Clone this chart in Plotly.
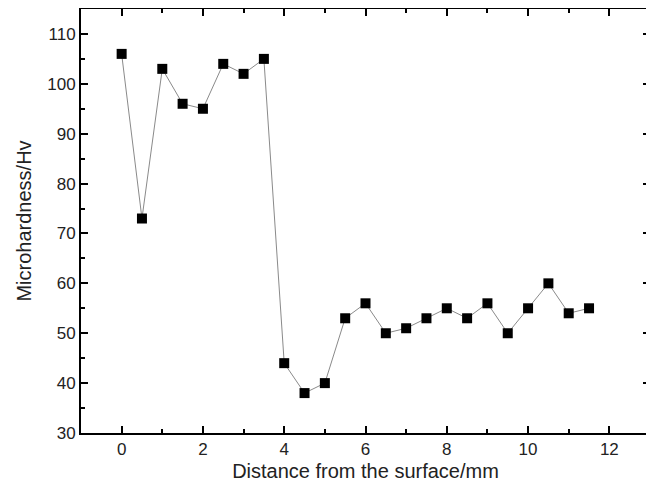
import plotly.graph_objects as go

distance = [0, 0.5, 1, 1.5, 2, 2.5, 3, 3.5, 4, 4.5, 5, 5.5, 6, 6.5, 7, 7.5, 8, 8.5, 9, 9.5, 10, 10.5, 11, 11.5]
hardness = [106, 73, 103, 96, 95, 104, 102, 105, 44, 38, 40, 53, 56, 50, 51, 53, 55, 53, 56, 50, 55, 60, 54, 55]

fig = go.Figure()
fig.add_trace(go.Scatter(
    x=distance, y=hardness, mode="lines+markers",
    line=dict(color="#8a8a8a", width=1),
    marker=dict(symbol="square", size=10, color="black"),
    showlegend=False,
))

font = "Liberation Sans, Arial"
axis_common = dict(
    showline=True, linecolor="black", linewidth=2, mirror="ticks",
    ticks="inside", ticklen=7, tickwidth=2, tickcolor="black",
    showgrid=False, zeroline=False, automargin=False,
    tickfont=dict(family=font, size=17, color="#222222"),
)

fig.update_xaxes(
    range=[-1, 13], tick0=0, dtick=2,
    minor=dict(ticks="inside", ticklen=4, tickwidth=2, tickcolor="black", dtick=1),
    title=dict(text="Distance from the surface/mm", font=dict(family=font, size=20, color="#222222"), standoff=6),
    **axis_common,
)
fig.update_yaxes(
    range=[30, 115], tick0=30, dtick=10,
    minor=dict(ticks="inside", ticklen=4, tickwidth=2, tickcolor="black", dtick=5),
    title=dict(text="Microhardness/Hv", font=dict(family=font, size=20, color="#222222"), standoff=10),
    **axis_common,
)

fig.update_layout(
    width=646, height=484,
    margin=dict(l=73, r=4, t=1, b=59),
    paper_bgcolor="white", plot_bgcolor="white",
)

fig.write_html("out.html")
